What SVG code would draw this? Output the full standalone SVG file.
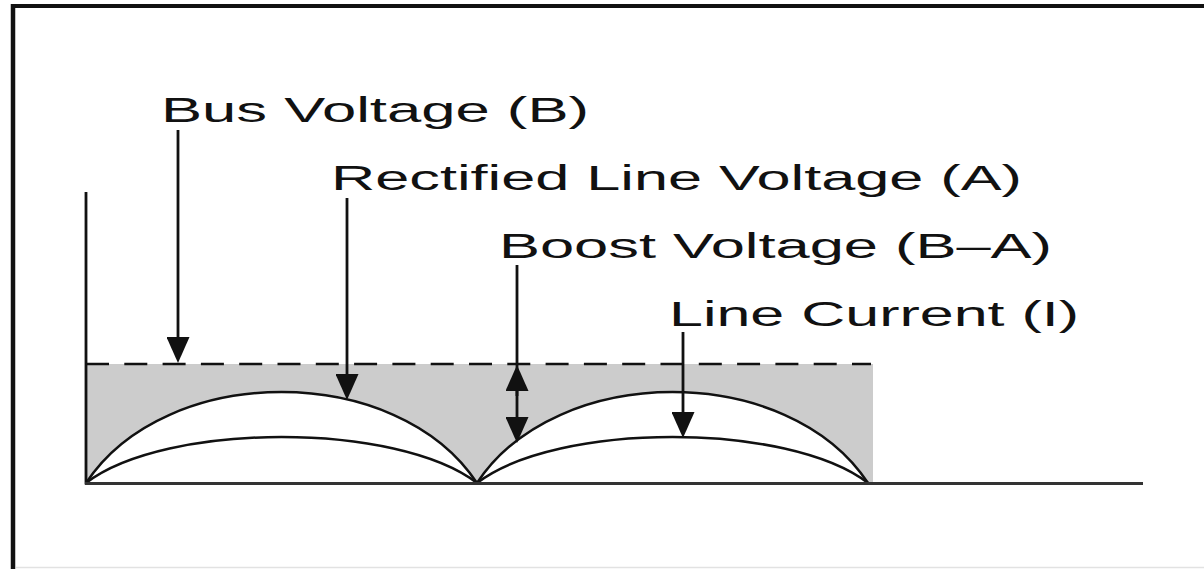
<svg xmlns="http://www.w3.org/2000/svg" width="1204" height="569" viewBox="0 0 1204 569">
<style>
.lbl{font-family:"Liberation Sans",Arial,sans-serif;font-size:35px;fill:#111}
.ln{stroke:#111;stroke-width:2.5;fill:none}
.arr{stroke:#111;stroke-width:2.8;fill:none;marker-end:url(#ah)}
</style>
<defs>
<marker id="ah" markerUnits="userSpaceOnUse" markerWidth="26" markerHeight="23" refX="3" refY="11.5" orient="auto" viewBox="0 0 26 23">
<path d="M0,0 L26,11.5 L0,23 Z" fill="#111"/>
</marker>
</defs>
<rect width="1204" height="569" fill="#fff"/>
<g id="frame">
<line x1="11" y1="6" x2="1204" y2="6" stroke="#111" stroke-width="4"/>
<line x1="13" y1="4" x2="13" y2="569" stroke="#111" stroke-width="4.5"/>
<line x1="16" y1="567.5" x2="1204" y2="567.5" stroke="#e2e2e2" stroke-width="1.5"/>
</g>
<g id="plot">
<rect x="86" y="364" width="787" height="119" fill="#cccccc"/>
<path d="M86,483 C166,361.7 397,361.7 477,483 C557,361.7 788,361.7 868,483 Z" fill="#fff"/>
<line x1="86" y1="364" x2="871" y2="364" stroke="#111" stroke-width="2.5" stroke-dasharray="23 15.3"/>
<path class="ln" d="M86,483 C166,361.7 397,361.7 477,483 C557,361.7 788,361.7 868,483"/>
<path class="ln" d="M86,483 C166,421.7 397,421.7 477,483 C557,421.7 788,421.7 868,483"/>
<line x1="86" y1="192" x2="86" y2="484.5" stroke="#111" stroke-width="2.8"/>
<line x1="85" y1="483.5" x2="1143" y2="483.5" stroke="#333" stroke-width="3"/>
</g>
<g id="connectors">
<path class="arr" d="M178,130 V340"/>
<path class="arr" d="M347,198 V377"/>
<path class="arr" d="M517,265 V420"/>
<path class="arr" d="M517,396 V388"/>
<path class="arr" d="M683,332 V415"/>
</g>
<g id="label-bus"><text class="lbl" x="161" y="122" textLength="428" lengthAdjust="spacingAndGlyphs">Bus Voltage (B)</text></g>
<g id="label-rect"><text class="lbl" x="331" y="190" textLength="691" lengthAdjust="spacingAndGlyphs">Rectified Line Voltage (A)</text></g>
<g id="label-boost"><text class="lbl" x="499" y="258" textLength="553" lengthAdjust="spacingAndGlyphs">Boost Voltage (B–A)</text></g>
<g id="label-current"><text class="lbl" x="669" y="326" textLength="410" lengthAdjust="spacingAndGlyphs">Line Current (I)</text></g>
</svg>
